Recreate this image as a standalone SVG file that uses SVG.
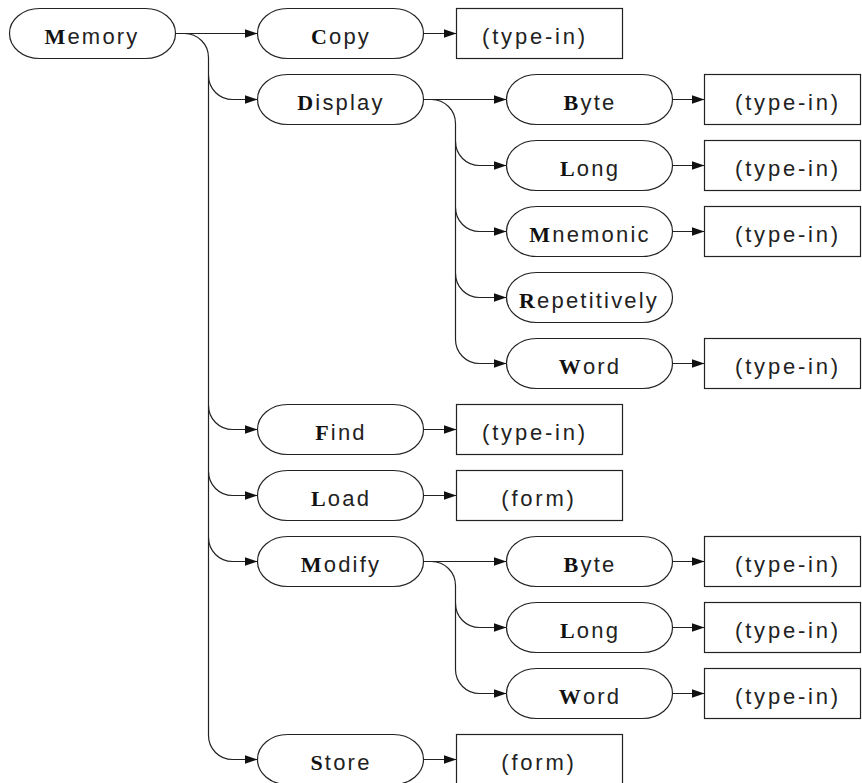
<svg xmlns="http://www.w3.org/2000/svg" width="862" height="783" viewBox="0 0 862 783">
<style>
.n{fill:#fff;stroke:#222;stroke-width:1.2}
.c{fill:none;stroke:#222;stroke-width:1.2}
text{font-family:"Liberation Sans",Arial,sans-serif;font-size:22px;letter-spacing:2.2px;fill:#222;text-anchor:middle}
.t{letter-spacing:2.8px}
.i{font-family:"Liberation Serif","Times New Roman",serif;font-weight:bold;fill:#111}
</style>
<defs>
<marker id="ah" markerUnits="userSpaceOnUse" markerWidth="14" markerHeight="10" refX="13" refY="4.5" orient="auto">
<path d="M0,0 L13,4.5 L0,9 z" fill="#111"/>
</marker>
</defs>
<rect width="862" height="783" fill="#fff"/>
<g id="connectors">
<g marker-end="url(#ah)" class="c">
<path class="c" d="M175.5,33.5 H257.5"/>
<path class="c" d="M175.5,33.5 H184.5 A24,24 0 0 1 208.5,57.5 V735.5 A24,24 0 0 0 232.5,759.5 H257.5"/>
<path class="c" d="M208.5,75.5 A24,24 0 0 0 232.5,99.5 H257.5"/>
<path class="c" d="M208.5,405.5 A24,24 0 0 0 232.5,429.5 H257.5"/>
<path class="c" d="M208.5,471.5 A24,24 0 0 0 232.5,495.5 H257.5"/>
<path class="c" d="M208.5,537.5 A24,24 0 0 0 232.5,561.5 H257.5"/>
<path class="c" d="M423.5,33.5 H456.5"/>
<path class="c" d="M423.5,429.5 H456.5"/>
<path class="c" d="M423.5,495.5 H456.5"/>
<path class="c" d="M423.5,759.5 H456.5"/>
<path class="c" d="M423.5,99.5 H506.5"/>
<path class="c" d="M423.5,99.5 H431.5 A24,24 0 0 1 455.5,123.5 V339.5 A24,24 0 0 0 479.5,363.5 H506.5"/>
<path class="c" d="M455.5,141.5 A24,24 0 0 0 479.5,165.5 H506.5"/>
<path class="c" d="M455.5,207.5 A24,24 0 0 0 479.5,231.5 H506.5"/>
<path class="c" d="M455.5,273.5 A24,24 0 0 0 479.5,297.5 H506.5"/>
<path class="c" d="M423.5,561.5 H506.5"/>
<path class="c" d="M423.5,561.5 H431.5 A24,24 0 0 1 455.5,585.5 V669.5 A24,24 0 0 0 479.5,693.5 H506.5"/>
<path class="c" d="M455.5,603.5 A24,24 0 0 0 479.5,627.5 H506.5"/>
<path class="c" d="M672.5,99.5 H704.5"/>
<path class="c" d="M672.5,165.5 H704.5"/>
<path class="c" d="M672.5,231.5 H704.5"/>
<path class="c" d="M672.5,363.5 H704.5"/>
<path class="c" d="M672.5,561.5 H704.5"/>
<path class="c" d="M672.5,627.5 H704.5"/>
<path class="c" d="M672.5,693.5 H704.5"/>
</g>
</g>
<g id="memory"><rect class="n" x="9.5" y="8.5" width="166" height="50" rx="30" ry="25"/><text x="92" y="44"><tspan class="i">M</tspan>emory</text></g>
<g id="copy"><rect class="n" x="257.5" y="8.5" width="166" height="50" rx="30" ry="25"/><text x="341" y="44"><tspan class="i">C</tspan>opy</text></g>
<g id="copy_in"><rect class="n" x="456.5" y="8.5" width="166" height="50"/><text class="t" x="535" y="44">(type-in)</text></g>
<g id="display"><rect class="n" x="257.5" y="74.5" width="166" height="50" rx="30" ry="25"/><text x="341" y="110"><tspan class="i">D</tspan>isplay</text></g>
<g id="d_byte"><rect class="n" x="506.5" y="74.5" width="166" height="50" rx="30" ry="25"/><text x="590" y="110"><tspan class="i">B</tspan>yte</text></g>
<g id="d_byte_in"><rect class="n" x="704.5" y="74.5" width="156" height="50"/><text class="t" x="788" y="110">(type-in)</text></g>
<g id="d_long"><rect class="n" x="506.5" y="140.5" width="166" height="50" rx="30" ry="25"/><text x="590" y="176"><tspan class="i">L</tspan>ong</text></g>
<g id="d_long_in"><rect class="n" x="704.5" y="140.5" width="156" height="50"/><text class="t" x="788" y="176">(type-in)</text></g>
<g id="d_mnemonic"><rect class="n" x="506.5" y="206.5" width="166" height="50" rx="30" ry="25"/><text x="590" y="242"><tspan class="i">M</tspan>nemonic</text></g>
<g id="d_mnemonic_in"><rect class="n" x="704.5" y="206.5" width="156" height="50"/><text class="t" x="788" y="242">(type-in)</text></g>
<g id="d_repetitively"><rect class="n" x="506.5" y="272.5" width="166" height="50" rx="30" ry="25"/><text x="589" y="308"><tspan class="i">R</tspan>epetitively</text></g>
<g id="d_word"><rect class="n" x="506.5" y="338.5" width="166" height="50" rx="30" ry="25"/><text x="590" y="374"><tspan class="i">W</tspan>ord</text></g>
<g id="d_word_in"><rect class="n" x="704.5" y="338.5" width="156" height="50"/><text class="t" x="788" y="374">(type-in)</text></g>
<g id="find"><rect class="n" x="257.5" y="404.5" width="166" height="50" rx="30" ry="25"/><text x="341" y="440"><tspan class="i">F</tspan>ind</text></g>
<g id="find_in"><rect class="n" x="456.5" y="404.5" width="166" height="50"/><text class="t" x="535" y="440">(type-in)</text></g>
<g id="load"><rect class="n" x="257.5" y="470.5" width="166" height="50" rx="30" ry="25"/><text x="341" y="506"><tspan class="i">L</tspan>oad</text></g>
<g id="load_in"><rect class="n" x="456.5" y="470.5" width="166" height="50"/><text class="t" x="539" y="506">(form)</text></g>
<g id="modify"><rect class="n" x="257.5" y="536.5" width="166" height="50" rx="30" ry="25"/><text x="341" y="572"><tspan class="i">M</tspan>odify</text></g>
<g id="m_byte"><rect class="n" x="506.5" y="536.5" width="166" height="50" rx="30" ry="25"/><text x="590" y="572"><tspan class="i">B</tspan>yte</text></g>
<g id="m_byte_in"><rect class="n" x="704.5" y="536.5" width="156" height="50"/><text class="t" x="788" y="572">(type-in)</text></g>
<g id="m_long"><rect class="n" x="506.5" y="602.5" width="166" height="50" rx="30" ry="25"/><text x="590" y="638"><tspan class="i">L</tspan>ong</text></g>
<g id="m_long_in"><rect class="n" x="704.5" y="602.5" width="156" height="50"/><text class="t" x="788" y="638">(type-in)</text></g>
<g id="m_word"><rect class="n" x="506.5" y="668.5" width="166" height="50" rx="30" ry="25"/><text x="590" y="704"><tspan class="i">W</tspan>ord</text></g>
<g id="m_word_in"><rect class="n" x="704.5" y="668.5" width="156" height="50"/><text class="t" x="788" y="704">(type-in)</text></g>
<g id="store"><rect class="n" x="257.5" y="734.5" width="166" height="50" rx="30" ry="25"/><text x="341" y="770"><tspan class="i">S</tspan>tore</text></g>
<g id="store_in"><rect class="n" x="456.5" y="734.5" width="166" height="50"/><text class="t" x="539" y="770">(form)</text></g>
</svg>
